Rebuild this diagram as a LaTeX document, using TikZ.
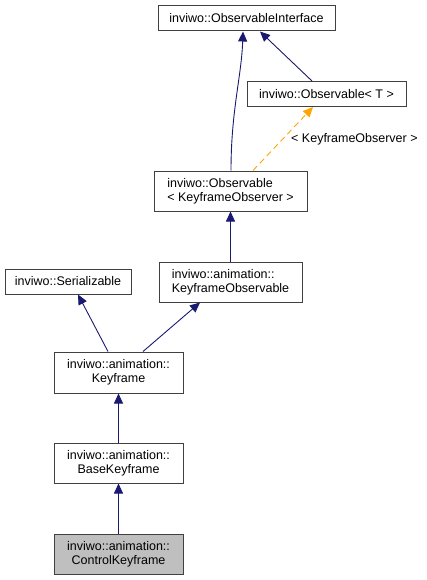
\documentclass[tikz,border=0pt]{standalone}
\usepackage{fontspec}
\setmainfont{Liberation Sans}
\usetikzlibrary{arrows.meta}
\definecolor{edgeblue}{RGB}{25,25,112}
\definecolor{edgeorange}{RGB}{255,165,0}
\definecolor{hlgray}{RGB}{191,191,191}
\begin{document}
\begin{tikzpicture}[x=1pt,y=-1pt,
  cls/.style={draw=black!75, line width=1pt, fill=white, inner sep=0pt, font=\fontsize{12.5}{14}\selectfont, align=center},
  inh/.style={draw=edgeblue, line width=0.9pt, -{Triangle[length=10pt,width=9pt]}},
  tmpl/.style={draw=edgeorange, line width=0.9pt, dashed, dash pattern=on 6pt off 4pt, -{Triangle[length=10pt,width=9pt]}},
  lbl/.style={font=\fontsize{12.5}{14}\selectfont, inner sep=0pt}]
\useasboundingbox (0,0) rectangle (427,580);
\node[cls, minimum width=177pt, minimum height=25pt] (oi) at (246.5,18.5) {inviwo::ObservableInterface};
\node[cls, minimum width=159pt, minimum height=25pt] (ot) at (326.5,94) {inviwo::Observable< T >};
\node[cls, minimum width=153pt, minimum height=40pt, align=left] (ko) at (230.5,191) {inviwo::Observable\\< KeyframeObserver >};
\node[cls, minimum width=126pt, minimum height=25pt] (ser) at (68,281.5) {inviwo::Serializable};
\node[cls, minimum width=143pt, minimum height=40pt, align=left] (kobs) at (230.5,282) {inviwo::animation::\\KeyframeObservable};
\node[cls, minimum width=129pt, minimum height=41pt] (kf) at (118.5,372.5) {inviwo::animation::\\Keyframe};
\node[cls, minimum width=129pt, minimum height=40pt] (bk) at (118.5,463) {inviwo::animation::\\BaseKeyframe};
\node[cls, minimum width=129pt, minimum height=40pt, fill=hlgray] (ck) at (118.5,554) {inviwo::animation::\\ControlKeyframe};

\draw[inh] ([xshift=-14.5pt]ot.north) -- ([xshift=13.5pt]oi.south);
\draw[inh] ([xshift=0.5pt]ko.north) .. controls ([xshift=0.5pt,yshift=60pt]ko.north) and ([xshift=-5pt,yshift=-45pt]oi.south) .. ([xshift=-3.5pt]oi.south);
\draw[tmpl] ([xshift=22.5pt]ko.north) -- ([xshift=-13.5pt]ot.south);
\node[lbl, anchor=west] (tl) at (291,139) {< KeyframeObserver >};
\draw[inh] (kobs.north) -- (ko.south);
\draw[inh] ([xshift=-10.5pt]kf.north) -- ([xshift=10pt]ser.south);
\draw[inh] ([xshift=24.5pt]kf.north) -- ([xshift=-30.5pt]kobs.south);
\draw[inh] (bk.north) -- (kf.south);
\draw[inh] (ck.north) -- (bk.south);
\end{tikzpicture}
\end{document}
